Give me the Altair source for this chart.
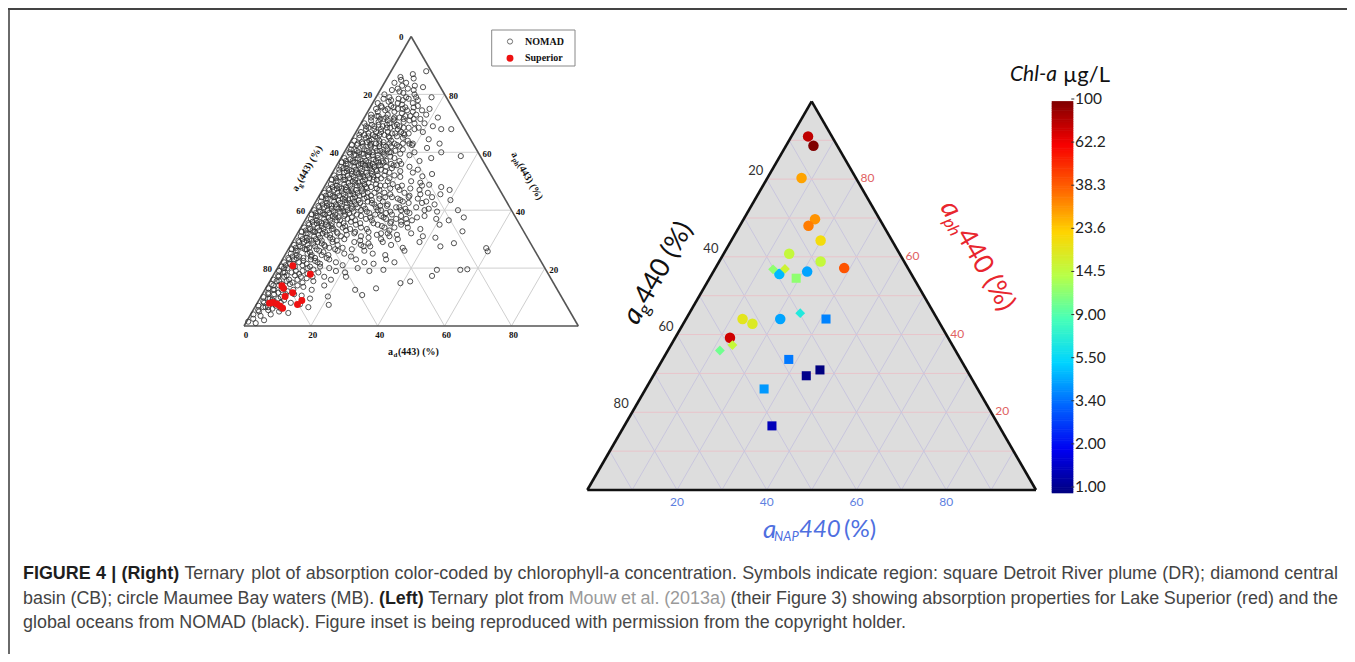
import math
import altair as alt
import pandas as pd

W, H = 1339, 646

# ---------------- Right panel: Lake Erie samples ----------------
# a_NAP(440) %, a_ph(440) %  (a_g = 100 - a_NAP - a_ph), Chl-a (ug/L), region
R_NAP = [3.7, 6.1, 7.6, 15.9, 15.3, 19.9, 14.6, 22.6, 28.7,
         15.0, 13.0, 15.6, 20.9, 19.3, 24.7, 21.0, 31.2, 12.6, 15.4,
         12.2, 13.7, 11.6, 28.1, 36.4, 34.1, 26.4, 32.9]
R_PH = [91.0, 88.6, 80.3, 69.7, 68.0, 64.2, 60.8, 58.8, 57.1,
        55.6, 56.8, 56.9, 56.2, 54.5, 45.5, 44.0, 44.0, 44.0, 42.8,
        39.2, 37.3, 35.9, 33.6, 30.9, 29.4, 26.0, 16.5]
R_CHL = [80, 100, 30, 32, 35, 22, 16, 16, 42,
         5.0, 12.5, 17, 4.6, 12.5, 7.2, 4.6, 4.0, 20, 19,
         75, 16, 11, 3.8, 1.0, 1.1, 4.4, 1.5]
R_REGION = ["MB", "MB", "MB", "MB", "MB", "MB", "MB", "MB", "MB",
            "MB", "CB", "CB", "MB", "DR", "CB", "MB", "DR", "MB", "MB",
            "MB", "CB", "CB", "DR", "DR", "DR", "DR", "DR"]

CBAR_TICKS = [1.00, 2.00, 3.40, 5.50, 9.00, 14.5, 23.6, 38.3, 62.2, 100]
CBAR_LABELS = ["1.00", "2.00", "3.40", "5.50", "9.00", "14.5", "23.6", "38.3", "62.2", "100"]
JET = ["#000080", "#0000f1", "#0063ff", "#00d4ff", "#47ffb8",
       "#b8ff47", "#ffd400", "#ff6300", "#f80000", "#800000"]

R_GRID = [10, 20, 30, 40, 50, 60, 70, 80, 90]
R_TICKS = [20, 40, 60, 80]

# ---------------- Left panel: Mouw et al. (2013a) ----------------
# (a_d %, a_ph %)
SUP_AD = [4.2, 10.9, 4.4, 5.3, 7.2, 8.8, 3.7, 4.6, 6.0, 7.3, 8.5, 12.3, 12.9]
SUP_PH = [20.8, 17.9, 13.9, 13.0, 10.2, 11.5, 7.9, 8.1, 7.6, 6.9, 6.1, 7.4, 8.8]

NOMAD = [
    (3.8, 86), (7, 87), (10.5, 88),
    (5.8, 83), (9.6, 83), (12.3, 82.5), (3, 84),
    (2, 80), (4, 79), (6, 81), (7.4, 80.5), (9, 79), (11, 80), (16.6, 79), (13, 78),
    (1.5, 77), (3, 76), (4.5, 77.5), (6, 76), (7.5, 77), (9, 76.5), (10.5, 75.5), (12, 77), (14, 76), (18, 75),
    (1.5, 73), (3, 74), (4, 72.5), (5, 74.5), (6.5, 73), (8, 74), (9, 72), (10.5, 73.5), (12, 72.5), (13.5, 74),
    (15, 73), (18, 73), (22, 72),
    (1, 70), (2.5, 71), (3.5, 69.5), (5, 70.5), (6, 71.5), (7, 69), (8.5, 70), (9.5, 71), (11, 69.5), (12.5, 70.5),
    (14, 71), (16, 70), (19, 70), (22, 69), (25, 68),
    (1.5, 67), (2.5, 68), (4, 66.5), (5, 68), (6, 67), (7.5, 66), (8.5, 68.5), (9.5, 67), (11, 66.5), (12, 68),
    (13.5, 67), (15, 66), (17, 68), (20, 67), (28, 68),
    (1, 64), (2, 65), (3.5, 63.5), (4.5, 65.5), (5.5, 64), (6.5, 63), (7.5, 65), (8.5, 64), (10, 63.5), (11, 65),
    (12, 64), (13.5, 63), (15, 65), (17, 64), (19, 63), (23, 64.5), (27, 63),
    (1.5, 61), (2.5, 62.5), (3.5, 60.5), (4.5, 62), (5.5, 61), (6.5, 62.5), (7.5, 60), (8.5, 61.5), (9.5, 62),
    (10.5, 60.5), (11.5, 62), (12.5, 61), (14, 60), (15.5, 62), (17, 61), (19, 62.5), (21, 60), (29, 60), (24, 61.5),
    (1, 58), (2, 59.5), (3, 57.5), (4, 59), (5, 58), (6, 59.5), (7, 57), (8, 58.5), (9, 59), (10, 57.5), (11, 58),
    (12, 59.5), (13, 57), (14.5, 58.5), (16, 58), (18, 57), (20, 59), (24, 57), (35.5, 58.7), (27, 58),
    (1.5, 55), (2.5, 56), (3.5, 54.5), (4.5, 56.5), (5.5, 55), (6.5, 54), (7.5, 56), (8.5, 55.5), (9.5, 54.5),
    (10.5, 56), (11.5, 55), (12.5, 54), (13.5, 56.5), (15, 55), (17, 54.5), (19, 56), (22, 55), (25, 54),
    (1, 52), (2, 53), (3, 51.5), (4, 53.5), (5, 52), (6, 51), (7, 53), (8, 52.5), (9, 51.5), (10, 53), (11, 52),
    (12, 51), (13, 53.5), (14, 52), (15.5, 51), (17, 53), (19, 52), (21, 51.5), (24, 53), (27.5, 51.7), (30, 52.5),
    (1.5, 49), (2.5, 50), (3.5, 48.5), (4.5, 50.5), (5.5, 49), (6.5, 48), (7.5, 50), (8.5, 49.5), (9.5, 48.5),
    (10.5, 50), (11.5, 49), (12.5, 48), (13.5, 50.5), (15, 49), (16.5, 48.5), (18, 50), (20, 49), (22, 48),
    (25, 50), (31, 48.8), (28, 49.5), (35, 48),
    (1, 46), (2, 47), (3, 45.5), (4, 47.5), (5, 46), (6, 45), (7, 47), (8, 46.5), (9, 45.5), (10, 47), (11, 46),
    (12, 45), (13, 47.5), (14, 46), (15.5, 45), (17, 47), (19, 46), (21, 45.5), (23, 47), (25, 46), (27, 45),
    (29, 47), (32, 46), (36, 45.5), (38, 47),
    (1.5, 43), (2.5, 44), (3.5, 42.5), (4.5, 44.5), (5.5, 43), (6.5, 42), (7.5, 44), (8.5, 43.5), (9.5, 42.5),
    (10.5, 44), (11.5, 43), (12.5, 42), (14, 44), (15.5, 43), (17, 42.5), (18.5, 44), (20, 43), (22, 42), (24, 44),
    (26, 43), (28, 42.5), (30, 44), (33, 43), (36, 42), (40, 43.5),
    (1, 40), (2, 41), (3, 39.5), (4, 41.5), (5, 40), (6, 39), (7, 41), (8, 40.5), (9, 39.5), (10, 41), (11, 40),
    (12, 39), (13.5, 41), (15, 40), (17, 39.5), (19, 41), (21, 40), (23, 39), (25, 41), (27, 40), (29, 39.5),
    (31, 41), (34, 40), (38, 39.5), (44, 40),
    (1.5, 37), (2.5, 38), (3.5, 36.5), (4.5, 38.5), (5.5, 37), (6.5, 36), (7.5, 38), (8.5, 37.5), (9.5, 36.5),
    (11, 38), (12.5, 37), (14, 36), (16, 38), (18, 37), (20, 36.5), (22, 38), (24, 37), (26, 36), (28, 38),
    (30, 37), (32, 36.5), (35, 38), (39, 37), (43, 36.5), (47, 37.5),
    (1, 34), (2, 35), (3, 33.5), (4, 35.5), (5, 34), (6, 33), (7, 35), (8, 34.5), (9.5, 33.5), (11, 35), (12.5, 34),
    (14, 33), (16, 35), (18, 34), (20, 33.5), (22.5, 35), (25, 34), (27, 33), (29.5, 35), (32, 34), (36, 33.5),
    (41, 35), (49, 32.7),
    (1.5, 31), (2.5, 32), (3.5, 30.5), (4.5, 32.5), (5.5, 31), (6.5, 30), (7.5, 32), (9, 31.5), (10.5, 30.5),
    (12, 32), (13.5, 31), (15, 30), (17, 32), (19.5, 31), (22, 30.5), (25, 32), (28, 31), (31, 30), (34, 32),
    (38, 31), (42, 30.5),
    (1, 28), (2, 29), (3, 27.5), (4, 29.5), (5, 28), (6, 27), (7.5, 29), (9, 28.5), (10.5, 27.5), (12, 29), (14, 28),
    (16, 27), (18.5, 29), (21, 28), (24, 27.5), (27, 29), (30, 28), (34, 27), (45, 27.5), (48.5, 28.6), (59, 26.9),
    (38, 29),
    (1.5, 25), (2.5, 26), (3.5, 24.5), (5, 26.5), (6.5, 25), (8, 24), (9.5, 26), (11, 25.5), (13, 24.5), (15, 26),
    (17.5, 25), (20, 24), (23, 26), (26, 25), (30, 24.5), (60, 25.8), (35, 26),
    (1, 22), (2, 23), (3, 21.5), (4, 23.5), (5.5, 22), (7, 21), (8.5, 23), (10, 22.5), (12, 21.5), (14, 23),
    (16.5, 22), (19, 21), (22, 23), (25, 22), (28, 21.5), (31, 23), (34, 22),
    (1, 19), (2, 20), (3, 18.5), (4.5, 20.5), (6, 19), (7.5, 18), (9, 20), (11, 19.5), (13, 18.5), (15.5, 20),
    (18, 19), (21, 18.5), (24, 20), (32, 19.4), (48, 19.4), (55, 19.4), (57, 19.6), (28, 19),
    (0.8, 16), (1.8, 17), (2.8, 15.5), (4, 17.5), (5.5, 16), (7, 15), (8.5, 17), (10.5, 16.5), (13, 15.5),
    (15.5, 17), (18, 16), (22, 17), (42, 15.4), (47.6, 17.3), (39.4, 14.8),
    (0.8, 13), (1.8, 14), (2.8, 12.5), (4, 14.5), (5.5, 13), (7, 12), (9, 14), (11, 13.5), (14, 12.5), (17, 14),
    (27, 12.5), (33, 13),
    (0.8, 10), (1.8, 11), (3, 9.5), (4.5, 11.5), (6, 10), (7.5, 9), (9.5, 11), (12, 10.5), (15, 9.5), (20, 10.2),
    (30, 10.7),
    (0.8, 7), (2, 8), (3.2, 6.5), (4.5, 8.5), (6, 7), (8, 6), (10, 8), (13, 7.5), (21.7, 7.3), (16, 6.5),
    (0.8, 4), (2, 5), (3.2, 3.5), (4.5, 5.5), (6, 4), (8, 5), (11, 4.5),
    (0.5, 1.5), (1.5, 2.5), (3, 1), (5, 2),
]

NOMAD_B = [
    (4.5, 85), (8, 85.5), (6.5, 84),
    (3.5, 81.5), (5, 82), (8, 82), (10, 81.5),
    (2.5, 78.5), (5, 78), (7, 78.5), (8.5, 78), (10, 78.5), (12, 79),
    (2, 75), (3.5, 75.5), (5.5, 75), (7, 75.5), (8.5, 75), (10, 75), (11.5, 74.5), (13, 75.5), (16, 74.5),
    (2, 72), (3.5, 72.5), (5, 71.5), (6.5, 72), (7.5, 71), (9, 71.5), (10.5, 72), (12, 71.5), (13.5, 72.5),
    (15, 71.5), (17, 71.5),
    (2, 69), (3, 68.5), (4.5, 69), (5.5, 69.5), (7, 68), (8, 69.5), (9.5, 68.5), (10.5, 69), (12, 69), (13.5, 68.5),
    (15, 68.5), (18, 68.5),
    (1.5, 66), (3, 66), (4, 65), (5.5, 66), (6.5, 65.5), (7.5, 67), (9, 66), (10.5, 65.5), (12, 66.5), (13, 65.5),
    (14.5, 66.5), (16, 66.5),
    (1, 62.5), (2.5, 63), (4, 63), (5, 63.5), (6, 64.5), (7, 62), (8, 63), (9, 63), (10.5, 62.5), (12, 63), (13, 62),
    (14.5, 62.5), (16, 63), (18, 63),
    (1.5, 60), (2.5, 61), (3.5, 59), (4.5, 60), (5.5, 59.5), (6.5, 60.5), (7.5, 59), (8.5, 60), (9.5, 60.5),
    (10.5, 59), (11.5, 60), (12.5, 59), (13.5, 60), (15, 60.5), (17, 59.5),
    (1, 56.5), (2, 57), (3, 56), (4, 57), (5, 56.5), (6, 57.5), (7, 56), (8, 57), (9, 56.5), (10, 55.5), (11, 57),
    (12, 56.5), (13, 55.5), (14, 57), (16, 56), (18, 55.5),
    (1.5, 54), (2.5, 54.5), (3.5, 53), (4.5, 54), (5.5, 53.5), (6.5, 55.5), (7.5, 54.5), (8.5, 53.5), (9.5, 55.5),
    (10.5, 54.5), (11.5, 53.5), (12.5, 55.5), (14, 54), (15.5, 53.5), (17, 55.5), (20, 53.5),
    (1, 50.5), (2, 51), (3, 50), (4, 51.5), (5, 50.5), (6, 52.5), (7, 51.5), (8, 50.5), (9, 52.5), (10, 51.5),
    (11, 50.5), (12, 52.5), (13, 51.5), (14.5, 50.5), (16, 52), (18, 51),
    (1.5, 47.5), (2.5, 48), (3.5, 47), (4.5, 48), (5.5, 47.5), (6.5, 49.5), (7.5, 48.5), (8.5, 47.5), (9.5, 49.5),
    (10.5, 48.5), (11.5, 47.5), (12.5, 49.5), (14, 48), (16, 47.5), (18, 48.5), (20, 47.5),
    (1, 44.5), (2, 45), (3, 44), (4, 45), (5, 44.5), (6, 46.5), (7, 45.5), (8, 44.5), (9, 46.5), (10, 45.5),
    (11, 44.5), (12, 46.5), (13, 45.5), (14.5, 44.5), (16, 46), (18, 45), (20, 44.5),
    (1.5, 41.5), (2.5, 42), (3.5, 41), (4.5, 42), (5.5, 41.5), (6.5, 43.5), (7.5, 42.5), (8.5, 41.5), (9.5, 43.5),
    (10.5, 42.5), (11.5, 41.5), (12.5, 43.5), (13.5, 42.5), (15, 41.5), (16.5, 43.5), (18, 42), (20, 41.5),
    (1, 38.5), (2, 39), (3, 38), (4, 39), (5, 38.5), (6, 40.5), (7, 39.5), (8, 38.5), (9, 40.5), (10, 39.5),
    (11, 38.5), (12, 40.5), (13, 39.5), (14.5, 38.5), (16, 40.5), (18, 39), (20, 38.5),
    (1.5, 35.5), (2.5, 36), (3.5, 35), (4.5, 36), (5.5, 35.5), (6.5, 37.5), (7.5, 36.5), (8.5, 35.5), (9.5, 37.5),
    (10.5, 36.5), (12, 35.5), (13.5, 37.5), (15, 36.5), (17, 35.5), (19, 37.5),
    (1, 32.5), (2, 33), (3, 32), (4, 33), (5, 32.5), (6, 34.5), (7, 33.5), (8, 32.5), (9, 34.5), (10, 33.5),
    (11.5, 32.5), (13, 34.5), (15, 33.5), (17, 32.5),
    (1.5, 29.5), (2.5, 30), (3.5, 29), (4.5, 30), (5.5, 29.5), (6.5, 31.5), (7.5, 30.5), (8.5, 29.5), (10, 31.5),
    (11.5, 30), (13, 29.5), (15, 31.5),
    (1, 26.5), (2, 27), (3, 26), (4, 27), (5.5, 26.5), (6.5, 28.5), (7.5, 27.5), (8.5, 26.5), (10, 28), (12, 27),
    (14, 26.5),
    (1.5, 23.5), (2.5, 24), (3.5, 23), (4.5, 24), (6, 23.5), (7, 25.5), (8, 24.5), (9.5, 23.5), (11, 24.5),
    (13, 23.5),
    (1, 20.5), (2, 21), (3, 20), (4, 21.5), (5, 20.5), (6.5, 22.5), (8, 21.5), (9.5, 20.5), (11, 22), (12.5, 20.5),
    (1.5, 17.5), (2.5, 18.5), (3.5, 17), (5, 18.5), (6.5, 17.5), (8, 19), (10, 18), (12, 17),
    (1, 14.5), (2, 15.5), (3.5, 14), (5, 15.5), (6.5, 14.5), (8, 16), (10, 15),
    (1.5, 11.5), (2.5, 12.5), (3.5, 11), (5, 12.5), (7, 11), (8.5, 12.5),
    (1.5, 8.5), (2.5, 9.5), (4, 9), (5.5, 9.5), (7, 8),
    (1.5, 5.5), (2.5, 6.5), (4, 6.5), (5.5, 6),
    (20, 40), (22, 41.5), (24, 39.5), (26, 41), (28, 40.5), (30, 39), (23, 37.5), (25, 38.5), (27, 37), (29, 36),
    (21, 35.5), (24, 34.5), (26, 35.5), (28, 34), (31, 35.5), (33, 37.5), (35, 40.5), (32, 42.5), (22, 44.5),
    (25, 43.5), (27, 44.5), (30, 45.5), (34, 44.5), (23, 48.5), (26, 47.5), (29, 48.5), (21, 32.5), (24, 31.5),
    (27, 32), (30, 31.5), (20, 29.5), (23, 28.5), (26, 30), (19, 26.5), (22, 27.5),
]

L_GRID = [20, 40, 60, 80]
L_TICKS = [0, 20, 40, 60, 80]
LEGEND_LABELS = ["NOMAD", "Superior"]

CAPTION_LINES = [
    [("FIGURE 4 | (Right)", "bold"),
     ("Ternary plot of absorption color-coded by chlorophyll-a concentration. Symbols indicate region: "
      "square Detroit River plume (DR); diamond central", "normal")],
    [("basin (CB); circle Maumee Bay waters (MB).", "normal"), ("(Left)", "bold"),
     ("Ternary plot from", "normal"), ("Mouw et al. (2013a)", "link"),
     ("(their Figure 3) showing absorption properties for Lake Superior (red) and the", "normal")],
    [("global oceans from NOMAD (black). Figure inset is being reproduced with permission from the "
      "copyright holder.", "normal")],
]
CAP_JUSTIFY = [True, True, False]
CAP_Y = [566, 591, 615]
CAP_X0, CAP_X1, CAP_LAST_END = 15, 1330, 899

# ---------------- layout (chart pixel frame) ----------------
RX0, RY0, RW = 579.3, 482.0, 448.7     # right triangle: bottom-left corner, side length
LX0, LY0, LW = 236.0, 318.0, 334.3     # left triangle
CB_X0, CB_X1, CB_TOP, CB_BOT = 1043.7, 1065.3, 93.7, 485.3
LAB_TOP, LAB_BOT = 91.0, 479.0

XS = alt.Scale(domain=[0, W], range=[0, W], nice=False, zero=False)
YS = alt.Scale(domain=[0, H], range=[0, H], nice=False, zero=False)


def X(f):
    return alt.X(f"{f}:Q", scale=XS, axis=None)


def Y(f):
    return alt.Y(f"{f}:Q", scale=YS, axis=None)


def tx(x0, w, d="d", p="p"):
    return f"{x0} + {w / 100.0} * (datum.{d} + datum.{p} / 2)"


def ty(y0, w, p="p"):
    return f"{y0} - {w * 0.8660254 / 100.0} * datum.{p}"


def tern(df, x0, y0, w):
    return alt.Chart(df).transform_calculate(px=tx(x0, w), py=ty(y0, w))


def tern_rules(df, x0, y0, w):
    return alt.Chart(df).transform_calculate(
        px=tx(x0, w, "d1", "p1"), py=ty(y0, w, "p1"),
        px2=tx(x0, w, "d2", "p2"), py2=ty(y0, w, "p2"))


def grid_df(vals, hcol, dcol):
    rows = []
    for v in vals:
        rows.append(dict(d1=0, p1=v, d2=100 - v, p2=v, c=hcol))
        rows.append(dict(d1=v, p1=0, d2=v, p2=100 - v, c=dcol))
        rows.append(dict(d1=100 - v, p1=0, d2=0, p2=100 - v, c=dcol))
    return pd.DataFrame(rows)


EDGES = pd.DataFrame(dict(d1=[0, 100, 0], p1=[0, 0, 100], d2=[100, 0, 0], p2=[0, 100, 0]))
TRI = pd.DataFrame(dict(d=[0, 0, 100], p=[0, 100, 0]))


def seg_rows(x0, y0, ang, segs):
    th = math.radians(ang)
    ux, uy = math.cos(th), math.sin(th)
    nx, ny = -math.sin(th), math.cos(th)
    rows, s = [], 0.0
    for text, size, adv, sub, style, color in segs:
        rows.append(dict(x=x0 + ux * s + nx * sub, y=y0 + uy * s + ny * sub, t=text, size=size,
                         ang=ang % 360, style=style, color=color))
        s += adv
    return rows


def text_layer(rows, font, style="normal", weight="normal", align="left"):
    df = pd.DataFrame(rows)
    return alt.Chart(df).mark_text(font=font, fontStyle=style, fontWeight=weight, align=align,
                                   baseline="middle").encode(
        x=X("x"), y=Y("y"), text="t:N",
        size=alt.Size("size:Q", scale=None),
        angle=alt.Angle("ang:Q", scale=None),
        color=alt.Color("color:N", scale=None))


# Arial / Liberation Sans advance widths (1/1000 em), used to justify the caption
_REG = {" ": 278, "(": 333, ")": 333, "-": 333, ".": 278, ",": 278, ";": 278, ":": 278, "|": 260, "%": 889}
_REG.update({c: 556 for c in "0123456789"})
_REG.update(dict(zip("ABCDEFGHIJKLMNOPQRSTUVWXYZ",
                     [667, 667, 722, 722, 667, 611, 778, 722, 278, 500, 667, 556, 833, 722, 778, 667, 778, 722,
                      667, 611, 722, 667, 944, 667, 667, 611])))
_REG.update(dict(zip("abcdefghijklmnopqrstuvwxyz",
                     [556, 556, 500, 556, 556, 278, 556, 556, 222, 222, 500, 222, 833, 556, 556, 556, 556, 333,
                      500, 278, 556, 500, 722, 500, 500, 500])))
_BOLD = dict(_REG)
_BOLD.update({"|": 280})
_BOLD.update(dict(zip("ABCDEFGHIJKLMNOPQRSTUVWXYZ",
                      [722, 722, 722, 722, 667, 611, 778, 722, 278, 556, 722, 611, 833, 722, 778, 667, 778, 722,
                       667, 611, 722, 667, 944, 667, 667, 611])))
_BOLD.update(dict(zip("abcdefghijklmnopqrstuvwxyz",
                      [556, 611, 556, 611, 556, 333, 611, 611, 278, 278, 556, 278, 889, 611, 611, 611, 611, 389,
                       556, 333, 611, 556, 778, 556, 556, 500])))


def em(text, style):
    tab = _BOLD if style == "bold" else _REG
    return sum(tab.get(ch, 556) for ch in text) / 1000.0


def line_words(line):
    out = []
    for seg, style in line:
        for wd in seg.split(" "):
            out.append((wd, style))
    return out


last = line_words(CAPTION_LINES[-1])
CAP_SIZE = (CAP_LAST_END - CAP_X0) / (sum(em(w, s) for w, s in last) + em(" ", "normal") * (len(last) - 1))

cap_rows = []
for li, line in enumerate(CAPTION_LINES):
    words = line_words(line)
    widths = [em(w, s) * CAP_SIZE for w, s in words]
    sp = em(" ", "normal") * CAP_SIZE
    if CAP_JUSTIFY[li] and len(words) > 1:
        sp = (CAP_X1 - CAP_X0 - sum(widths)) / (len(words) - 1)
    x = CAP_X0
    for (w, s), wd in zip(words, widths):
        cap_rows.append(dict(x=x, y=CAP_Y[li], t=w, style=s))
        x += wd + sp

layers = []

# ---- figure frame lines ----
one = pd.DataFrame({"k": [0]})
layers.append(alt.Chart(one).mark_rule(color="#6a6a6a", strokeWidth=2).encode(
    x=alt.value(1), y=alt.value(0), y2=alt.value(H)))
layers.append(alt.Chart(one).mark_rule(color="#444444", strokeWidth=2).encode(
    x=alt.value(0), x2=alt.value(W), y=alt.value(1)))

# ================= LEFT PANEL =================
layers.append(tern_rules(grid_df(L_GRID, "#cfcfcf", "#cfcfcf"), LX0, LY0, LW).mark_rule(strokeWidth=1).encode(
    x=X("px"), y=Y("py"), x2="px2:Q", y2="py2:Q", color=alt.Color("c:N", scale=None)))
layers.append(tern_rules(EDGES, LX0, LY0, LW).mark_rule(color="#555555", strokeWidth=1.6).encode(
    x=X("px"), y=Y("py"), x2="px2:Q", y2="py2:Q"))
nomad_df = pd.DataFrame(NOMAD + NOMAD_B, columns=["d", "p"])
layers.append(tern(nomad_df, LX0, LY0, LW).mark_point(
    shape="circle", filled=False, size=27, stroke="#333333", strokeWidth=1.0, opacity=0.85).encode(
    x=X("px"), y=Y("py")))
sup_df = pd.DataFrame(dict(d=SUP_AD, p=SUP_PH))
layers.append(tern(sup_df, LX0, LY0, LW).mark_point(
    shape="circle", filled=True, size=48, color="#ee1111", opacity=1).encode(x=X("px"), y=Y("py")))

# left tick labels
lt = []
for v in L_TICKS:
    lt.append(dict(d=0, p=100 - v, label=str(v), dx=-10, dy=1))
    lt.append(dict(d=v, p=0, label=str(v), dx=2, dy=9))
for v in L_GRID:
    lt.append(dict(d=100 - v, p=v, label=str(v), dx=9, dy=2))
layers.append(alt.Chart(pd.DataFrame(lt)).transform_calculate(
    px=f"{LX0} + {LW / 100.0} * (datum.d + datum.p / 2) + datum.dx",
    py=f"{LY0} - {LW * 0.8660254 / 100.0} * datum.p + datum.dy").mark_text(
    font="Liberation Serif", fontWeight="bold", fontSize=9, color="#111111", align="center",
    baseline="middle").encode(x=X("px"), y=Y("py"), text="label:N"))

# left titles (bold serif)
ltitle = []
ltitle += seg_rows(286.5, 182.5, -60, [("a", 10, 5.5, 0, "n", "#111"), ("g", 7, 4.5, 3, "n", "#111"),
                                       ("(443) (%)", 10, 0, 0, "n", "#111")])
ltitle += seg_rows(505.5, 144.5, 60, [("a", 10, 5.5, 0, "n", "#111"), ("ph", 7, 7.5, 3, "n", "#111"),
                                      ("(443) (%)", 10, 0, 0, "n", "#111")])
ltitle += seg_rows(380, 343.7, 0, [("a", 10, 5.5, 0, "n", "#111"), ("d", 7, 4.5, 3, "n", "#111"),
                                   ("(443) (%)", 10, 0, 0, "n", "#111")])
layers.append(text_layer(ltitle, "Liberation Serif", weight="bold"))

# left legend
layers.append(alt.Chart(one).mark_rect(fill="white", stroke="#888888", strokeWidth=1).encode(
    x=alt.value(483.7), x2=alt.value(567), y=alt.value(22), y2=alt.value(58)))
layers.append(alt.Chart(one).mark_point(shape="circle", filled=False, size=27, stroke="#333333",
                                        strokeWidth=1.0).encode(x=alt.value(502), y=alt.value(33.5)))
layers.append(alt.Chart(one).mark_point(shape="circle", filled=True, size=48, color="#ee1111",
                                        opacity=1).encode(x=alt.value(502), y=alt.value(50.3)))
layers.append(text_layer([dict(x=517, y=33.5, t=LEGEND_LABELS[0], size=10, ang=0, color="#111"),
                          dict(x=517, y=50.3, t=LEGEND_LABELS[1], size=10, ang=0, color="#111")],
                         "Liberation Serif", weight="bold"))

# ================= RIGHT PANEL =================
layers.append(tern(TRI, RX0, RY0, RW).transform_calculate(base=f"{RY0}").mark_area(
    color="#dddddd", opacity=1).encode(x=X("px"), y=Y("py"), y2="base:Q"))
layers.append(tern_rules(grid_df(R_GRID, "#e8c4ca", "#c9c6dd"), RX0, RY0, RW).mark_rule(strokeWidth=1).encode(
    x=X("px"), y=Y("py"), x2="px2:Q", y2="py2:Q", color=alt.Color("c:N", scale=None)))
layers.append(tern_rules(EDGES, RX0, RY0, RW).mark_rule(color="#111111", strokeWidth=2.6).encode(
    x=X("px"), y=Y("py"), x2="px2:Q", y2="py2:Q"))

CHL_SCALE = alt.Scale(domain=CBAR_TICKS, range=JET, interpolate="rgb")
r_df = pd.DataFrame(dict(d=R_NAP, p=R_PH, chl=R_CHL, region=R_REGION))
layers.append(tern(r_df, RX0, RY0, RW).mark_point(filled=True, opacity=1, strokeWidth=0).encode(
    x=X("px"), y=Y("py"),
    color=alt.Color("chl:Q", scale=CHL_SCALE, legend=None),
    shape=alt.Shape("region:N", scale=alt.Scale(domain=["DR", "CB", "MB"],
                                                range=["square", "diamond", "circle"]), legend=None),
    size=alt.Size("region:N", scale=alt.Scale(domain=["DR", "CB", "MB"], range=[82, 110, 100]), legend=None)))

# right tick labels
rt = []
for v in R_TICKS:
    rt.append(dict(d=0, p=100 - v, label=str(v), dx=-11, dy=-8, color="#333333", size=13))
    rt.append(dict(d=100 - v, p=v, label=str(v), dx=11, dy=-1, color="#e06262", size=12))
    rt.append(dict(d=v, p=0, label=str(v), dx=0, dy=12, color="#5e7fe0", size=12))
layers.append(alt.Chart(pd.DataFrame(rt)).transform_calculate(
    px=f"{RX0} + {RW / 100.0} * (datum.d + datum.p / 2) + datum.dx",
    py=f"{RY0} - {RW * 0.8660254 / 100.0} * datum.p + datum.dy").mark_text(
    font="Lato", align="center", baseline="middle").encode(
    x=X("px"), y=Y("py"), text="label:N",
    size=alt.Size("size:Q", scale=None), color=alt.Color("color:N", scale=None)))

# right titles
BLK, RED, BLU = "#111111", "#e8262e", "#4f6fe0"
rit, rno = [], []
a = seg_rows(622, 314, -60, [("a", 28, 14, 0, "i", BLK), ("g", 17, 9, 7, "n", BLK),
                             ("440 (%)", 27, 0, 0, "n", BLK)])
b = seg_rows(938.8, 195.1, 60, [("a", 28, 14, 0, "i", RED), ("ph", 17, 18, 8, "i", RED),
                                ("440 (%)", 27, 0, 0, "n", RED)])
c = [dict(x=755, y=522, t="a", size=26, ang=0, style="i", color=BLU),
     dict(x=766, y=529, t="NAP", size=13, ang=0, style="i", color=BLU),
     dict(x=791, y=522, t="440", size=24, ang=0, style="i", color=BLU),
     dict(x=836, y=522, t="(%)", size=24, ang=0, style="n", color=BLU)]
for r in a + b + c:
    (rit if r["style"] == "i" else rno).append(r)
layers.append(text_layer(rit, "Lato", style="italic"))
layers.append(text_layer(rno, "Lato"))

# ---- colour bar ----
cb_rows = []
for k in range(len(CBAR_TICKS) - 1):
    for j in range(24):
        f0, f1 = j / 24.0, (j + 1) / 24.0
        cb_rows.append(dict(pos0=k + f0, pos1=k + f1,
                            chl=CBAR_TICKS[k] + (j + 0.5) / 24.0 * (CBAR_TICKS[k + 1] - CBAR_TICKS[k])))
nseg = len(CBAR_TICKS) - 1
layers.append(alt.Chart(pd.DataFrame(cb_rows)).transform_calculate(
    y0=f"{CB_BOT} - datum.pos0 / {nseg} * {CB_BOT - CB_TOP}",
    y1=f"{CB_BOT} - datum.pos1 / {nseg} * {CB_BOT - CB_TOP} - 0.6").mark_rect().encode(
    x=alt.value(CB_X0), x2=alt.value(CB_X1), y=Y("y0"), y2="y1:Q",
    color=alt.Color("chl:Q", scale=CHL_SCALE, legend=None)))
cbl = pd.DataFrame(dict(k=list(range(len(CBAR_LABELS))), t=CBAR_LABELS))
cbl_chart = alt.Chart(cbl).transform_calculate(ly=f"{LAB_BOT} - datum.k / {nseg} * {LAB_BOT - LAB_TOP}")
layers.append(cbl_chart.mark_text(font="Lato", fontSize=15.5, color="#222222", align="left",
                                  baseline="middle").encode(x=alt.value(1067), y=Y("ly"), text="t:N"))
layers.append(cbl_chart.mark_rule(color="#333333", strokeWidth=1).encode(
    x=alt.value(CB_X1 - 2), x2=alt.value(CB_X1 + 1), y=Y("ly")))
layers.append(text_layer([dict(x=1002, y=67, t="Chl-a", size=21, ang=0, color="#111")], "Lato", style="italic"))
layers.append(text_layer([dict(x=1055, y=67, t="\u00b5g/L", size=22, ang=0, color="#111")], "Lato"))

# ---- caption ----
STY = {"bold": ("bold", "#1e1e1e"), "normal": ("normal", "#444444"), "link": ("normal", "#9a9a9a")}
for key in ["bold", "normal", "link"]:
    rows = [dict(x=r["x"], y=r["y"], t=r["t"], size=CAP_SIZE, ang=0, color=STY[key][1])
            for r in cap_rows if r["style"] == key]
    layers.append(text_layer(rows, "Liberation Sans", weight=STY[key][0]))

chart = alt.layer(*layers).properties(
    width=W, height=H, padding=0, autosize=alt.AutoSizeParams(type="none")
).configure_view(stroke=None)

chart.save("out.html", embed_options={"renderer": "svg", "actions": False})
